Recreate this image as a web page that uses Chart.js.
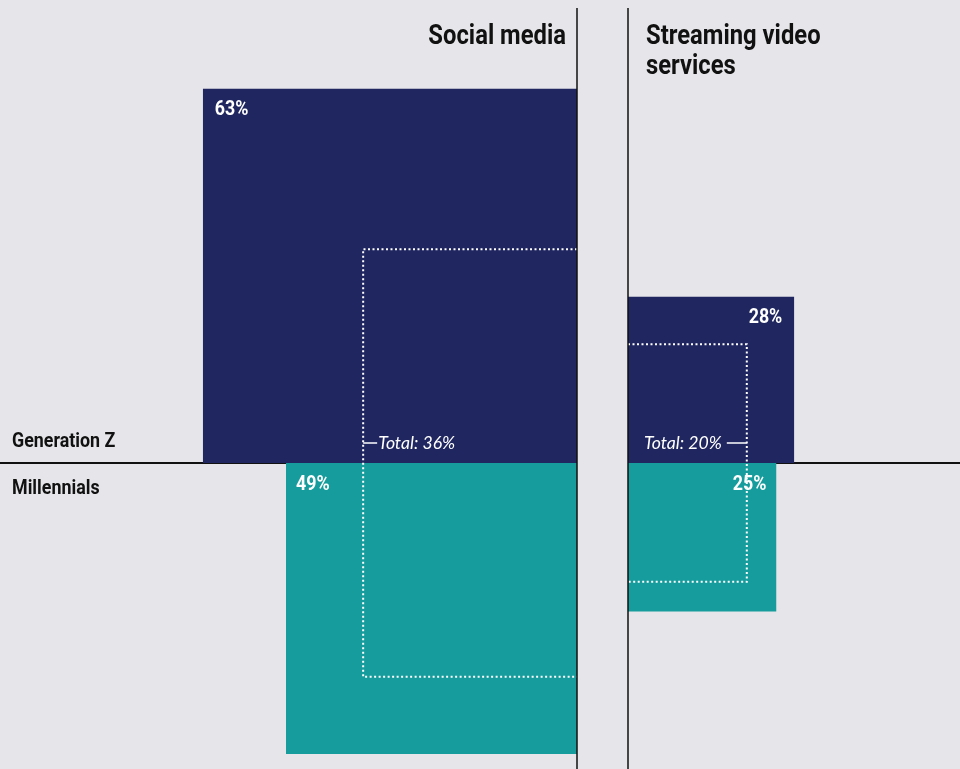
<!DOCTYPE html>
<html>
<head>
<meta charset="utf-8">
<script src="https://cdn.jsdelivr.net/npm/chart.js@4.4.1/dist/chart.umd.min.js"></script>
<style>
    html, body { margin: 0; padding: 0; background: #e6e6ea; }
    #wrap { width: 960px; height: 769px; position: relative; }
</style>
</head>
<body>
<div id="wrap"><canvas id="squaresChart"></canvas></div>
<script>
// datos
const categories = ["Social media", "Streaming video services"];
const titleLines = [["Social media"], ["Streaming video", "services"]];
const groups = ["Generation Z", "Millennials"];
const genZ = [63, 28];
const millennials = [49, 25];
const totals = [36, 20];

// layout (pixeles)
const PX_PER_PCT = 5.94;
const ZERO_LEFT = 577;
const ZERO_RIGHT = 628;
const BASE_Y = 463;
const W = 960, H = 769;

const NAVY = "#1f2660";
const TEAL = "#169c9c";
const SQUEEZE = 0.85; // texto condensado

const side = [-1, 1]; // izquierda / derecha
const axisIds = ["x", "x2"];

const datasets = [];
categories.forEach(function (cat, i) {
    const s = side[i];
    datasets.push({
        label: groups[0] + " - " + cat,
        data: [{ x: s * genZ[i], y: genZ[i] }, { x: 0, y: genZ[i] }],
        xAxisID: axisIds[i],
        backgroundColor: NAVY,
        borderWidth: 0,
        fill: "origin",
        order: 2,
    });
    datasets.push({
        label: groups[1] + " - " + cat,
        data: [{ x: s * millennials[i], y: -millennials[i] }, { x: 0, y: -millennials[i] }],
        xAxisID: axisIds[i],
        backgroundColor: TEAL,
        borderWidth: 0,
        fill: "origin",
        order: 2,
    });
    const t = totals[i];
    datasets.push({
        label: "Total - " + cat,
        data: [{ x: 0, y: t }, { x: s * t, y: t }, { x: s * t, y: -t }, { x: 0, y: -t }],
        xAxisID: axisIds[i],
        borderColor: "#ffffff",
        borderWidth: 2,
        borderDash: [2, 2.5],
        fill: false,
        order: 1,
    });
});

function condText(ctx, text, x, y, align, font, sx) {
    ctx.save();
    ctx.translate(x, y);
    ctx.scale(sx === undefined ? SQUEEZE : sx, 1);
    ctx.font = font;
    ctx.textAlign = align;
    ctx.textBaseline = "middle";
    ctx.fillText(text, 0, 0);
    ctx.restore();
}

const overlay = {
    id: "overlay",
    beforeDatasetsDraw(chart) {
        const ctx = chart.ctx;
        const y0 = chart.scales.y.getPixelForValue(0);
        const xl = chart.scales.x.getPixelForValue(0);
        const xr = chart.scales.x2.getPixelForValue(0);
        ctx.save();
        ctx.strokeStyle = "#111";
        ctx.lineWidth = 2;
        ctx.beginPath();
        ctx.moveTo(0, y0);
        ctx.lineTo(xl, y0);
        ctx.moveTo(xr, y0);
        ctx.lineTo(chart.width, y0);
        ctx.stroke();
        ctx.restore();
    },
    afterDatasetsDraw(chart) {
        const ctx = chart.ctx;
        const ys = chart.scales.y;
        const y0 = ys.getPixelForValue(0);
        const xl = chart.scales.x.getPixelForValue(0);
        const xr = chart.scales.x2.getPixelForValue(0);
        ctx.save();

        // lineas verticales
        ctx.strokeStyle = "#111";
        ctx.lineWidth = 1.5;
        ctx.beginPath();
        ctx.moveTo(xl, 8);
        ctx.lineTo(xl, chart.height);
        ctx.moveTo(xr, 8);
        ctx.lineTo(xr, chart.height);
        ctx.stroke();

        // titulos
        ctx.fillStyle = "#111";
        const titleFont = "bold 28px Roboto, sans-serif";
        titleLines[0].forEach(function (line, k) {
            condText(ctx, line, xl - 11, 37 + k * 30, "right", titleFont);
        });
        titleLines[1].forEach(function (line, k) {
            condText(ctx, line, xr + 18, 37 + k * 30, "left", titleFont);
        });

        // grupos
        const labelFont = "bold 21px Roboto, sans-serif";
        condText(ctx, groups[0], 12, y0 - 21, "left", labelFont);
        condText(ctx, groups[1], 12, y0 + 26, "left", labelFont);

        // porcentajes
        categories.forEach(function (cat, i) {
            const s = side[i];
            const xs = chart.scales[axisIds[i]];
            const align = s < 0 ? "left" : "right";
            ctx.fillStyle = "#ffffff";
            const gx = xs.getPixelForValue(s * genZ[i]) - s * 12;
            condText(ctx, genZ[i] + "%", gx, ys.getPixelForValue(genZ[i]) + 21, align, labelFont);
            const mx = xs.getPixelForValue(s * millennials[i]) - s * 10;
            condText(ctx, millennials[i] + "%", mx, y0 + 22, align, labelFont);

            // total
            const tx = xs.getPixelForValue(s * totals[i]);
            const ty = y0 - 20;
            const totalFont = "italic 18px Lato, sans-serif";
            const label = "Total: " + totals[i] + "%";
            ctx.strokeStyle = "#ffffff";
            ctx.lineWidth = 1.5;
            ctx.beginPath();
            if (s < 0) {
                ctx.moveTo(tx, ty);
                ctx.lineTo(tx + 14, ty);
                ctx.stroke();
                condText(ctx, label, tx + 15, ty, "left", totalFont, 0.98);
            } else {
                ctx.moveTo(tx - 20, ty);
                ctx.lineTo(tx, ty);
                ctx.stroke();
                condText(ctx, label, tx - 25, ty, "right", totalFont, 0.98);
            }
        });
        ctx.restore();
    },
};

new Chart(document.getElementById("squaresChart"), {
    type: "scatter",
    data: { datasets: datasets },
    options: {
        responsive: true,
        maintainAspectRatio: false,
        animation: false,
        showLine: true,
        layout: { padding: 0 },
        elements: {
            point: { radius: 0, hoverRadius: 0 },
            line: { tension: 0 },
        },
        plugins: {
            legend: { display: false },
            tooltip: { enabled: false },
        },
        scales: {
            x: { type: "linear", display: false, min: -ZERO_LEFT / PX_PER_PCT, max: (W - ZERO_LEFT) / PX_PER_PCT },
            x2: { type: "linear", display: false, min: -ZERO_RIGHT / PX_PER_PCT, max: (W - ZERO_RIGHT) / PX_PER_PCT },
            y: { type: "linear", display: false, min: -(H - BASE_Y) / PX_PER_PCT, max: BASE_Y / PX_PER_PCT },
        },
    },
    plugins: [overlay],
});
</script>
</body>
</html>
